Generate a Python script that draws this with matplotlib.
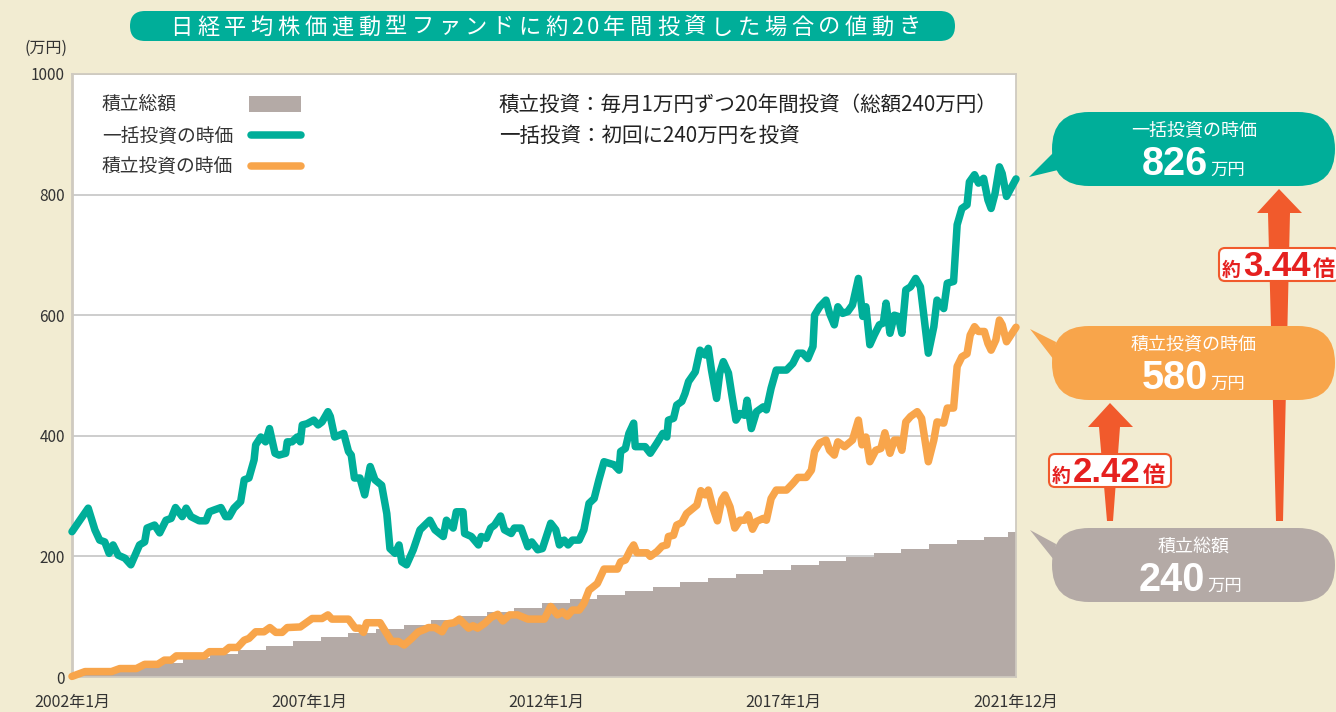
import matplotlib.pyplot as plt
from matplotlib.patches import FancyBboxPatch, Polygon, Rectangle

plt.rcParams['font.family'] = ['Noto Sans CJK JP', 'DejaVu Sans']

# ---- data (month index from 2002/1, value in 万円) ----
title = '日経平均株価連動型ファンドに約20年間投資した場合の値動き'
tick_months = [0, 60, 120, 180, 239]
tick_labels = ['2002年1月', '2007年1月', '2012年1月', '2017年1月', '2021年12月']
y_ticks = [0, 200, 400, 600, 800, 1000]

lump_sum = [
    (0, 241), (4.1, 280), (5.8, 244), (7, 227), (8.3, 224), (9.4, 205), (10.4, 219), (11.7, 202),
    (13.4, 197), (14.9, 186), (17.1, 219), (18.4, 224), (19, 247), (20.9, 252), (22.2, 239),
    (23.8, 260), (25.1, 263), (26.2, 281), (27.9, 266), (28.9, 280), (30.1, 266), (32.2, 259),
    (33.9, 259), (34.8, 274), (36, 277), (37.7, 281), (38.9, 266), (39.8, 266), (41, 280),
    (42.7, 291), (43.6, 327), (44.8, 330), (46.1, 360), (46.5, 385), (47.8, 398), (49, 390),
    (50, 412), (51.4, 371), (52.4, 368), (54.1, 371), (54.5, 390), (55.7, 390), (57, 398),
    (57.8, 390), (58.3, 418), (59.5, 420), (61.2, 426), (62.3, 418), (63.3, 423), (64.8, 440),
    (65.4, 432), (66.5, 398), (68.8, 404), (70, 374), (70.7, 368), (71.5, 330), (72.9, 330),
    (74.1, 302), (75.5, 349), (76.7, 327), (78.4, 318), (79.7, 271), (80.5, 213), (81.8, 205),
    (82.8, 219), (83.5, 191), (84.7, 186), (86.4, 211), (88.1, 244), (90.6, 260), (91.9, 244),
    (94, 233), (94.8, 260), (96.5, 247), (97.3, 274), (99, 274), (99.4, 238), (101.1, 233),
    (102.9, 219), (103.6, 233), (104.9, 230), (106, 247), (107, 252), (108.5, 267), (109.5, 244),
    (111.2, 238), (112, 247), (113.7, 247), (115.4, 216), (116.4, 224), (117.9, 211), (119.1, 213),
    (121.2, 255), (122.5, 244), (123.4, 219), (124.6, 227), (125.6, 219), (126.7, 227),
    (128.4, 227), (129.6, 244), (130.9, 288), (132.2, 296), (133.4, 327), (134.7, 357),
    (137.2, 352), (138.5, 343), (138.9, 374), (140.1, 379), (141, 404), (142.2, 421), (142.6, 382),
    (145.1, 382), (146.4, 371), (148.1, 388), (149.6, 404), (150.6, 398), (151, 426), (152.3, 429),
    (153.1, 451), (154.4, 457), (155.2, 470), (156.1, 490), (157.8, 506), (159, 542), (160.3, 534),
    (161.1, 545), (161.9, 509), (163.2, 462), (164, 504), (164.9, 523), (166.2, 504), (167, 470),
    (168.1, 426), (169.1, 437), (170.3, 434), (170.9, 459), (172, 412), (173.3, 440), (175, 448),
    (175.8, 443), (177, 479), (178.3, 509), (180.9, 509), (182.5, 520), (183.8, 537), (185, 537),
    (186.3, 528), (187.6, 548), (188, 600), (189.3, 614), (190.9, 625), (191.8, 603), (193, 584),
    (193.9, 614), (195.1, 603), (196.4, 606), (197.6, 617), (199.1, 661), (200.2, 598), (201, 614),
    (202, 551), (203.1, 567), (204.4, 584), (205.4, 587), (206.1, 620), (207.1, 570), (208.2, 600),
    (209.2, 598), (210.1, 570), (211.1, 642), (212.3, 647), (213.6, 661), (214.8, 647),
    (216.8, 537), (218.2, 581), (219, 625), (220.7, 611), (221.6, 653), (223.2, 656), (224.1, 750),
    (225.3, 777), (226.6, 783), (227.2, 821), (228.5, 833), (229.5, 819), (230.8, 827),
    (231.9, 791), (232.7, 777), (233.7, 802), (234.8, 846), (235.5, 835), (236.6, 797), (239, 826),
]

monthly_inv = [
    (0, 1), (3.3, 9), (10, 9), (12.1, 14), (16.3, 14), (18.4, 21), (21.7, 21), (23.4, 28),
    (25.1, 28), (26.4, 35), (33.5, 35), (34.8, 42), (38.5, 42), (39.8, 49), (41.9, 49), (43.6, 61),
    (44.8, 64), (46.5, 75), (48.6, 75), (50.1, 82), (51.6, 74), (53.2, 74), (54.5, 82), (57.8, 83),
    (59.1, 89), (60.8, 97), (63.3, 97), (64.8, 103), (65.8, 96), (70, 96), (71.7, 81), (72.9, 81),
    (73.8, 74), (74.6, 90), (78, 90), (79.4, 75), (80.9, 59), (82.6, 59), (84.1, 53), (86, 64),
    (87.7, 75), (89.3, 79), (90.2, 82), (91.9, 82), (93.7, 75), (94.8, 88), (96.7, 90), (98.1, 96),
    (100.4, 81), (101.5, 85), (102.7, 81), (104.5, 89), (106.1, 99), (107.8, 104), (109.1, 93),
    (110.8, 103), (112.8, 103), (115.4, 96), (119.6, 96), (121.2, 117), (122.9, 103), (124.2, 108),
    (125.4, 101), (126.7, 111), (128.4, 111), (129.6, 122), (130.9, 144), (133, 155), (134.7, 179),
    (138.1, 179), (138.9, 191), (140.1, 194), (141.4, 211), (142.2, 219), (143, 206), (145.6, 206),
    (146.4, 200), (148.1, 208), (149.4, 217), (150.6, 219), (151, 233), (152.3, 235), (153.1, 252),
    (154.4, 256), (155.6, 271), (156.9, 278), (158.2, 285), (159.2, 309), (160.3, 302),
    (161.1, 310), (162.2, 282), (163.4, 259), (164.5, 294), (165.3, 302), (166.6, 282),
    (167.8, 247), (169.1, 260), (170.3, 260), (171.2, 269), (172.3, 245), (173.3, 258), (175, 263),
    (175.8, 260), (177, 296), (178.3, 310), (180.9, 310), (182.5, 321), (183.8, 331), (185.9, 331),
    (187.2, 343), (188, 374), (189.3, 388), (190.9, 393), (191.8, 376), (193, 368), (193.9, 390),
    (195.6, 382), (197.6, 393), (199.1, 426), (200, 385), (201, 398), (202, 357), (203.5, 376),
    (204.8, 379), (205.8, 405), (207.1, 371), (208.2, 393), (209.2, 393), (210.1, 376),
    (211.1, 423), (212.3, 432), (214, 440), (215.1, 429), (216.8, 357), (218.2, 393), (219, 423),
    (220.7, 421), (221.6, 446), (223.2, 446), (224.1, 515), (225.3, 531), (226.6, 536),
    (227.4, 567), (228.5, 581), (229.5, 573), (231, 573), (231.9, 553), (232.7, 542), (233.9, 559),
    (234.8, 592), (235.5, 584), (236.6, 556), (239, 580),
]

total_months = [0, 7, 14, 21, 28, 35, 42, 49, 56, 63, 70, 77, 84, 91, 98, 105, 112, 119, 126,
                133, 140, 147, 154, 161, 168, 175, 182, 189, 196, 203, 210, 217, 224, 231, 237, 239]
total_paid = [3, 10, 17, 24, 31, 38, 45, 52, 59, 66, 73, 80, 87, 94, 101, 108, 115, 122, 129,
              136, 143, 150, 157, 164, 171, 178, 185, 192, 199, 206, 213, 220, 227, 233, 240, 240]

legend_labels = ['積立総額', '一括投資の時価', '積立投資の時価']
notes = ['積立投資：毎月1万円ずつ20年間投資（総額240万円）', '一括投資：初回に240万円を投資']
final_values = ['826', '580', '240']
ratios = ['2.42', '3.44']

BG = '#f2ecd2'
TEAL = '#00ae99'
ORANGE = '#f8a54b'
GRAY = '#b4aaa6'
ARROW = '#f15a2c'
RED = '#e5201f'
TXT = '#333333'
BOLD_NUM = 'Liberation Sans'

fig = plt.figure(figsize=(13.36, 7.12), dpi=100)
fig.patch.set_facecolor(BG)

# main plot area, in pixels: x 72..1016, y 74..677
ax = fig.add_axes([72 / 1336, 1 - 677 / 712, (1016 - 72) / 1336, (677 - 74) / 712])
ax.set_facecolor('white')
ax.set_xlim(0, 239)
ax.set_ylim(0, 1000)

ax.fill_between(total_months, total_paid, step='post', color=GRAY, lw=0, zorder=2)

for series, color in [(lump_sum, TEAL), (monthly_inv, ORANGE)]:
    xs = [p[0] for p in series]
    ys = [p[1] for p in series]
    ax.plot(xs, ys, color=color, lw=5.4, solid_joinstyle='round', solid_capstyle='round',
            zorder=4, clip_on=False)

ax.set_yticks(y_ticks)
ax.set_xticks(tick_months)
ax.set_xticklabels(tick_labels)
ax.tick_params(axis='y', length=0, labelsize=11, labelcolor=TXT, pad=5)
ax.tick_params(axis='x', length=0, labelsize=11.5, labelcolor=TXT, pad=12)
ax.grid(axis='y', color='#c9c9c9', lw=1.3, zorder=1)
ax.set_axisbelow(True)
for side in ['top', 'right', 'bottom', 'left']:
    ax.spines[side].set_color('#cfcac0')
    ax.spines[side].set_linewidth(1.3)
ax.spines['left'].set_linewidth(2)

fig.text(46 / 1336, 1 - 48 / 712, '(万円)', ha='center', va='center', fontsize=11.5, color=TXT)

# overlay in pixel coordinates for the annotation graphics
ov = fig.add_axes([0, 0, 1, 1])
ov.set_xlim(0, 1336)
ov.set_ylim(712, 0)
ov.axis('off')
ov.patch.set_alpha(0)

# title pill, letter spaced
ov.add_patch(FancyBboxPatch((130, 11), 825, 30, boxstyle='round,pad=0,rounding_size=15',
                            fc=TEAL, ec='none'))
x = 168
for ch in title:
    adv = 15.5 if ch.isdigit() else 26.8
    ov.text(x + adv / 2, 27, ch, ha='center', va='center', fontsize=16, color='white')
    x += adv

# legend
ov.text(102, 104, legend_labels[0], ha='left', va='center', fontsize=13.5, color=TXT)
ov.text(102, 136, legend_labels[1], ha='left', va='center', fontsize=13.5, color=TXT)
ov.text(102, 166, legend_labels[2], ha='left', va='center', fontsize=13.5, color=TXT)
ov.add_patch(Rectangle((249, 96), 52, 16, fc=GRAY, ec='none'))
ov.plot([251, 301], [135, 135], color=TEAL, lw=5.4, solid_capstyle='round')
ov.plot([251, 301], [166, 166], color=ORANGE, lw=5.4, solid_capstyle='round')

ov.text(499, 105, notes[0], ha='left', va='center', fontsize=14.8, color='#222222')
ov.text(499, 136, notes[1], ha='left', va='center', fontsize=14.8, color='#222222')

# arrows (tapered)
ov.add_patch(Polygon([(1110, 403), (1133, 427), (1120, 427), (1113, 521), (1107, 521),
                      (1099, 427), (1088, 427)], closed=True, fc=ARROW, ec='none'))
ov.add_patch(Polygon([(1279, 189), (1302, 213), (1290, 213), (1283, 521), (1276, 521),
                      (1268, 213), (1257, 213)], closed=True, fc=ARROW, ec='none'))

# speech bubbles
bubbles = [
    (112, TEAL, legend_labels[1], final_values[0], [(1029, 177), (1054, 152), (1058, 170)], 1208),
    (326, ORANGE, legend_labels[2], final_values[1], [(1030, 329), (1056, 342), (1054, 360)], 1208),
    (528, GRAY, legend_labels[0], final_values[2], [(1030, 530), (1056, 544), (1054, 560)], 1205),
]
for top, color, label, value, tail, right in bubbles:
    ov.add_patch(FancyBboxPatch((1052, top), 283, 74, boxstyle='round,pad=0,rounding_size=37',
                                fc=color, ec='none'))
    ov.add_patch(Polygon(tail, closed=True, fc=color, ec='none'))
    ov.text(1194, top + 19, label, ha='center', va='center', fontsize=13, color='white')
    ov.text(right, top + 63, value, ha='right', va='baseline', fontsize=28.5, color='white',
            family=BOLD_NUM, weight='bold')
    ov.text(right + 2, top + 63, '万円', ha='left', va='baseline', fontsize=12.5, color='white')

# ratio labels
for (bx, by, bw), ratio in zip([(1049, 454, 122), (1219, 248, 120)], ratios):
    ov.add_patch(FancyBboxPatch((bx, by), bw, 33, boxstyle='round,pad=0,rounding_size=6',
                                fc='white', ec=ARROW, lw=1.5))
    base = by + 28
    ov.text(bx + 3, base, '約', ha='left', va='baseline', fontsize=13.5, color=RED, weight='bold')
    ov.text(bx + 24, base, ratio, ha='left', va='baseline', fontsize=25, color=RED,
            family=BOLD_NUM, weight='bold')
    ov.text(bx + 94, base, '倍', ha='left', va='baseline', fontsize=16, color=RED, weight='bold')

fig.savefig('out.png', dpi=100, facecolor=BG)
